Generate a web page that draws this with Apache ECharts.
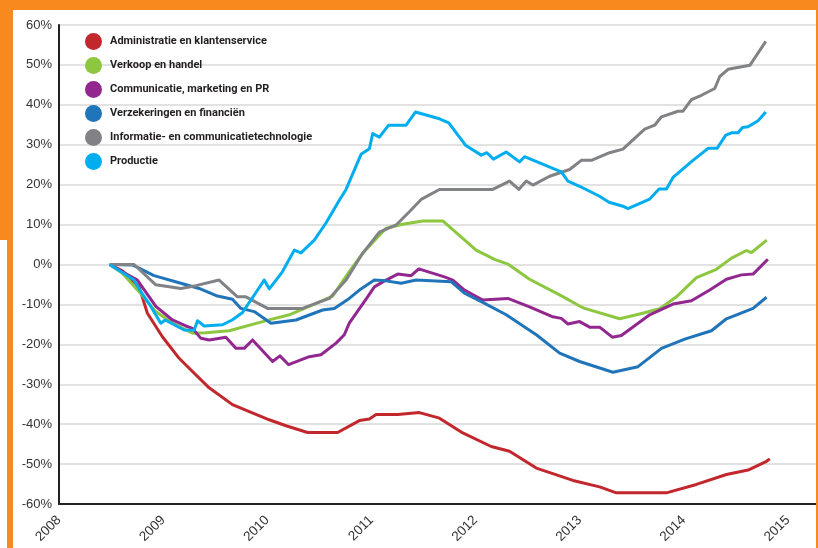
<!DOCTYPE html>
<html>
<head>
<meta charset="utf-8">
<script src="https://cdn.jsdelivr.net/npm/echarts@6/dist/echarts.min.js"></script>
<style>
  html, body { margin: 0; padding: 0; background: #fff; }
  #chart { width: 818px; height: 548px; }
</style>
</head>
<body>
<div id="chart"></div>
<script>
// series names (legend order)
const names = [
    'Administratie en klantenservice',
    'Verkoop en handel',
    'Communicatie, marketing en PR',
    'Verzekeringen en financiën',
    'Informatie- en communicatietechnologie',
    'Productie'
];
const colors = ['#c1272d', '#8dc63f', '#92278f', '#1f74ba', '#808285', '#00aeef'];

// [year, % change]
const administratie = [
    [2008.487, 0], [2008.609, -1.6], [2008.769, -5.6], [2008.849, -12.2], [2008.993, -18.1],
    [2009.154, -23.5], [2009.282, -26.8], [2009.442, -30.9], [2009.666, -35.1], [2010.019, -38.9],
    [2010.180, -40.4], [2010.388, -42.1], [2010.676, -42.1], [2010.885, -39.1], [2010.981, -38.7],
    [2011.045, -37.6], [2011.253, -37.6], [2011.462, -37.1], [2011.654, -38.5], [2011.878, -42.2],
    [2012.151, -45.6], [2012.327, -46.8], [2012.584, -51.0], [2012.936, -54.1], [2013.192, -55.7],
    [2013.353, -57.2], [2013.833, -57.2], [2014.122, -55.1], [2014.410, -52.6], [2014.618, -51.5],
    [2014.795, -49.3], [2014.827, -48.7]
];
const verkoop = [
    [2008.487, 0], [2008.609, -2.2], [2008.769, -6.8], [2008.930, -11.8], [2009.089, -14.7],
    [2009.282, -17.2], [2009.411, -17.1], [2009.635, -16.6], [2009.955, -14.3], [2010.212, -12.6],
    [2010.436, -10.1], [2010.628, -7.9], [2010.788, -1.8], [2010.916, 2.8], [2011.141, 9.1],
    [2011.301, 10.1], [2011.493, 10.9], [2011.686, 10.9], [2012.006, 3.6], [2012.183, 1.3],
    [2012.311, 0.1], [2012.519, -3.7], [2012.808, -7.6], [2013.0, -10.4], [2013.048, -11.0],
    [2013.385, -13.6], [2013.577, -12.4], [2013.769, -11.1], [2013.930, -8.1], [2014.122, -3.3],
    [2014.314, -1.2], [2014.459, 1.6], [2014.603, 3.5], [2014.651, 3.0], [2014.798, 6.1]
];
const communicatie = [
    [2008.487, 0], [2008.609, -1.8], [2008.753, -3.9], [2008.930, -10.5], [2009.089, -13.9],
    [2009.218, -15.4], [2009.282, -16.0], [2009.363, -18.5], [2009.442, -18.9], [2009.603, -18.2],
    [2009.699, -21.0], [2009.779, -21.0], [2009.859, -18.9], [2010.051, -24.3], [2010.122, -22.9],
    [2010.205, -25.1], [2010.404, -23.1], [2010.516, -22.6], [2010.661, -19.7], [2010.740, -17.6],
    [2010.788, -14.7], [2010.964, -8.1], [2011.029, -5.6], [2011.141, -3.9], [2011.253, -2.4],
    [2011.382, -2.8], [2011.455, -1.1], [2011.702, -3.1], [2011.782, -3.9], [2011.894, -6.4],
    [2012.070, -8.9], [2012.311, -8.5], [2012.519, -10.6], [2012.743, -13.1], [2012.824, -13.5],
    [2012.888, -14.9], [2013.0, -14.3], [2013.096, -15.7], [2013.192, -15.7], [2013.314, -18.2],
    [2013.401, -17.8], [2013.673, -12.6], [2013.897, -9.9], [2014.074, -9.1], [2014.250, -6.4],
    [2014.410, -3.7], [2014.555, -2.6], [2014.666, -2.4], [2014.808, 1.3]
];
const verzekeringen = [
    [2008.487, 0], [2008.705, -0.1], [2008.913, -2.8], [2009.170, -4.7], [2009.346, -6.0],
    [2009.522, -7.9], [2009.666, -8.7], [2009.747, -11.0], [2009.875, -11.8], [2010.036, -14.7],
    [2010.276, -13.9], [2010.532, -11.4], [2010.644, -11.0], [2010.788, -8.5], [2010.885, -6.4],
    [2011.029, -3.9], [2011.141, -4.1], [2011.286, -4.7], [2011.430, -3.9], [2011.766, -4.3],
    [2011.894, -7.2], [2012.070, -9.5], [2012.295, -12.6], [2012.584, -17.6], [2012.808, -22.2],
    [2013.0, -24.3], [2013.320, -27.0], [2013.561, -25.6], [2013.786, -21.0], [2014.010, -18.7],
    [2014.266, -16.6], [2014.410, -13.6], [2014.666, -11.0], [2014.795, -8.2]
];
const ict = [
    [2008.487, 0], [2008.721, 0], [2008.930, -5.1], [2009.170, -6.0], [2009.314, -5.3],
    [2009.538, -3.9], [2009.714, -8.1], [2009.795, -8.1], [2010.003, -11.0], [2010.339, -11.0],
    [2010.596, -8.5], [2010.757, -3.9], [2010.916, 2.8], [2011.077, 8.1], [2011.238, 9.9],
    [2011.365, 13.2], [2011.478, 16.3], [2011.654, 18.8], [2012.166, 18.8], [2012.327, 20.9],
    [2012.416, 18.8], [2012.488, 20.9], [2012.551, 19.9], [2012.712, 22.1], [2012.904, 23.8],
    [2013.016, 26.1], [2013.113, 26.1], [2013.288, 28.0], [2013.416, 28.9], [2013.625, 33.9],
    [2013.721, 34.9], [2013.786, 37.0], [2013.945, 38.4], [2013.993, 38.4], [2014.074, 41.3],
    [2014.170, 42.4], [2014.298, 44.1], [2014.346, 47.1], [2014.426, 48.9], [2014.635, 49.9],
    [2014.788, 55.9]
];
const productie = [
    [2008.487, 0], [2008.721, -3.9], [2008.786, -6.8], [2008.882, -10.5], [2008.978, -14.7],
    [2009.019, -13.9], [2009.202, -16.4], [2009.298, -16.5], [2009.330, -14.1], [2009.394, -15.4],
    [2009.570, -15.1], [2009.663, -13.9], [2009.760, -12.1], [2009.856, -8.4], [2009.971, -3.9],
    [2010.019, -6.1], [2010.144, -1.9], [2010.260, 3.6], [2010.324, 2.9], [2010.452, 6.1],
    [2010.564, 10.4], [2010.692, 16.1], [2010.757, 18.8], [2010.901, 27.6], [2010.981, 29.0],
    [2011.013, 32.8], [2011.077, 31.9], [2011.166, 34.9], [2011.334, 34.9], [2011.423, 38.2],
    [2011.654, 36.5], [2011.743, 35.5], [2011.904, 29.9], [2012.055, 27.4], [2012.109, 28.0],
    [2012.173, 26.4], [2012.295, 28.2], [2012.423, 25.7], [2012.471, 27.0], [2012.824, 23.2],
    [2012.888, 20.9], [2013.0, 19.6], [2013.192, 17.1], [2013.282, 15.6], [2013.416, 14.6],
    [2013.464, 14.0], [2013.673, 16.4], [2013.763, 18.9], [2013.834, 18.9], [2013.897, 21.8],
    [2014.089, 26.1], [2014.234, 29.1], [2014.320, 29.1], [2014.404, 32.4], [2014.459, 33.0],
    [2014.522, 33.0], [2014.564, 34.3], [2014.618, 34.5], [2014.714, 36.0], [2014.788, 38.2]
];
const seriesData = [administratie, verkoop, communicatie, verzekeringen, ict, productie];

// axis range
const xMin = 2008, xMax = 2015.28;
const yMin = -60, yMax = 60, yStep = 10;

const orange = '#f7891f';
const chart = echarts.init(document.getElementById('chart'));

chart.setOption({
    animation: false,
    color: colors,
    // orange frame around the figure
    graphic: [
        { type: 'rect', shape: { x: 0, y: 0, width: 818, height: 10 }, style: { fill: orange }, z: 100 },
        { type: 'rect', shape: { x: 0, y: 0, width: 13, height: 240 }, style: { fill: orange }, z: 100 },
        { type: 'rect', shape: { x: 7, y: 240, width: 6, height: 308 }, style: { fill: orange }, z: 100 },
        { type: 'rect', shape: { x: 816, y: 0, width: 2, height: 548 }, style: { fill: orange }, z: 100 }
    ],
    legend: {
        data: names,
        orient: 'vertical',
        left: 80,
        top: 28,
        icon: 'circle',
        itemWidth: 17,
        itemHeight: 17,
        itemGap: 7,
        textStyle: {
            fontFamily: 'Roboto',
            fontWeight: 'bold',
            fontSize: 11,
            color: '#231f20',
            padding: [0, 0, 0, 3]
        }
    },
    grid: { left: 59, right: 1, top: 25, bottom: 44 },
    xAxis: {
        type: 'value',
        min: xMin,
        max: xMax,
        interval: 1,
        axisLine: { onZero: false, lineStyle: { color: '#231f20', width: 2 } },
        axisTick: { show: false },
        splitLine: { show: false },
        axisLabel: {
            rotate: 45,
            margin: 14,
            showMaxLabel: false,
            fontFamily: 'Liberation Sans',
            fontSize: 13.5,
            color: '#333',
            formatter: v => Number.isInteger(v) ? String(v) : ''
        }
    },
    yAxis: {
        type: 'value',
        min: yMin,
        max: yMax,
        interval: yStep,
        axisLine: { show: true, lineStyle: { color: '#231f20', width: 2 } },
        axisTick: { show: false },
        splitLine: { lineStyle: { color: '#d9d9d9', width: 1.5 } },
        axisLabel: {
            margin: 7,
            fontFamily: 'Liberation Sans',
            fontSize: 13,
            color: '#333',
            formatter: '{value}%'
        }
    },
    series: names.map((n, i) => ({
        name: n,
        type: 'line',
        data: seriesData[i],
        showSymbol: false,
        lineStyle: { width: 3, join: 'round' },
        emphasis: { disabled: true }
    }))
});
</script>
</body>
</html>
